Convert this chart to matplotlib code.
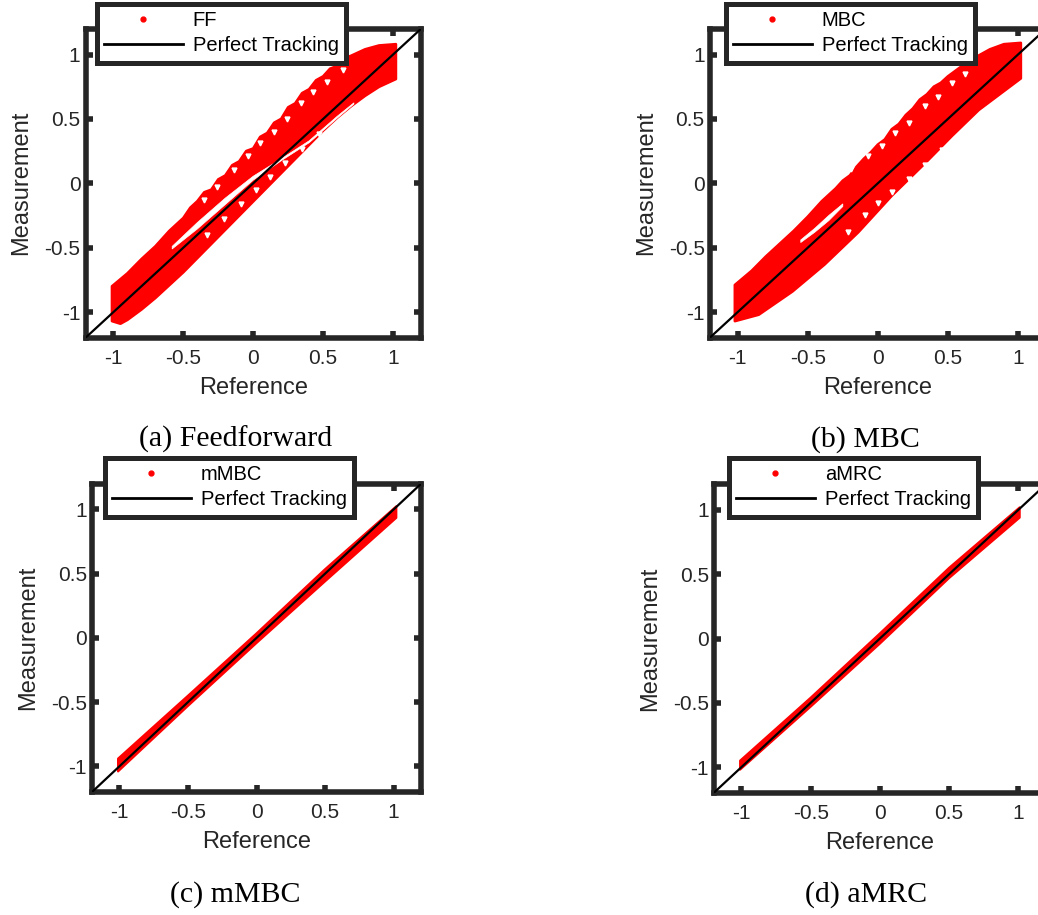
import matplotlib
matplotlib.use("Agg")
import matplotlib.pyplot as plt
from matplotlib.lines import Line2D

plt.rcParams['font.family'] = ['Liberation Sans', 'DejaVu Sans']

W, H = 1038, 915
DARK = '#262626'
LIM = 1.2
TICKS = [-1, -0.5, 0, 0.5, 1]
TICK_LABELS = ['-1', '-0.5', '0', '0.5', '1']

# --- Feedforward: envelope of the measured points ---
ff_upper_x = [-1.01, -0.90, -0.80, -0.70, -0.60, -0.50, -0.45, -0.40, -0.35, -0.30,
              -0.25, -0.20, -0.15, -0.10, -0.05, 0.00, 0.05, 0.10, 0.15, 0.20,
              0.25, 0.30, 0.35, 0.40, 0.45, 0.50, 0.55, 0.60, 0.65, 0.70,
              0.80, 0.90, 1.02]
ff_upper_y = [-0.80, -0.70, -0.59, -0.49, -0.37, -0.27, -0.19, -0.14, -0.07, -0.05,
              0.03, 0.06, 0.14, 0.17, 0.25, 0.27, 0.36, 0.39, 0.47, 0.50,
              0.59, 0.62, 0.70, 0.73, 0.80, 0.83, 0.89, 0.91, 0.97, 0.99,
              1.04, 1.07, 1.08]
ff_lower_x = [-1.01, -0.95, -0.90, -0.80, -0.70, -0.60, -0.50, -0.40, -0.30, -0.20,
              -0.10, 0.00, 0.10, 0.20, 0.30, 0.40, 0.50, 0.60, 0.70, 0.80, 0.90, 1.02]
ff_lower_y = [-1.07, -1.09, -1.06, -0.98, -0.89, -0.79, -0.69, -0.58, -0.47, -0.36,
              -0.25, -0.14, -0.03, 0.08, 0.19, 0.30, 0.41, 0.51, 0.60, 0.68, 0.75, 0.81]
# thin empty strip between the rising and falling branches
ff_gap_x = [-0.58, -0.40, -0.20, 0.00, 0.20, 0.40, 0.60, 0.72]
ff_gap_top = [-0.49, -0.305, -0.115, 0.055, 0.19, 0.33, 0.52, 0.625]
ff_gap_bot = [-0.51, -0.355, -0.165, 0.025, 0.175, 0.315, 0.505, 0.615]
# holes left between neighbouring loops
ff_hole_x = [-0.35, -0.26, -0.14, -0.04, 0.05, 0.15, 0.24, 0.34, 0.43, 0.53, 0.64,
             -0.33, -0.21, -0.09, 0.02, 0.12, 0.23, 0.35, 0.47]
ff_hole_y = [-0.13, -0.03, 0.10, 0.21, 0.31, 0.40, 0.50, 0.62, 0.71, 0.79, 0.88,
             -0.40, -0.28, -0.16, -0.05, 0.05, 0.16, 0.27, 0.38]

# --- MBC ---
mbc_upper_x = [-1.02, -0.90, -0.80, -0.70, -0.60, -0.50, -0.45, -0.40, -0.35, -0.30,
               -0.25, -0.20, -0.15, -0.10, -0.05, 0.00, 0.05, 0.10, 0.15, 0.20,
               0.25, 0.30, 0.35, 0.40, 0.45, 0.50, 0.55, 0.60, 0.70, 0.80, 0.90, 1.02]
mbc_upper_y = [-0.79, -0.68, -0.57, -0.47, -0.37, -0.26, -0.20, -0.14, -0.09, -0.04,
               0.02, 0.06, 0.13, 0.19, 0.24, 0.30, 0.34, 0.42, 0.46, 0.53,
               0.58, 0.65, 0.69, 0.75, 0.78, 0.83, 0.87, 0.91, 0.98, 1.04, 1.08, 1.09]
mbc_lower_x = [-1.02, -0.85, -0.61, -0.38, -0.14, 0.10, 0.34, 0.53, 0.72, 1.02]
mbc_lower_y = [-1.07, -1.02, -0.84, -0.63, -0.38, -0.095, 0.16, 0.37, 0.57, 0.815]
mbc_gap_x = [-0.55, -0.45, -0.35, -0.25]
mbc_gap_top = [-0.44, -0.35, -0.25, -0.16]
mbc_gap_bot = [-0.46, -0.38, -0.29, -0.18]
mbc_hole_x = [-0.19, -0.07, 0.03, 0.12, 0.22, 0.34, 0.43, 0.53, 0.62,
              -0.21, -0.09, 0.00, 0.10, 0.22, 0.34, 0.46]
mbc_hole_y = [0.11, 0.21, 0.29, 0.39, 0.47, 0.60, 0.67, 0.78, 0.85,
              -0.38, -0.25, -0.15, -0.07, 0.03, 0.14, 0.26]

# --- mMBC ---
mmbc_x = [-1.01, -0.50, 0.00, 0.50, 1.02]
mmbc_upper = [-0.94, -0.45, 0.035, 0.535, 1.025]
mmbc_lower = [-1.04, -0.53, -0.04, 0.44, 0.935]

# --- aMRC ---
amrc_x = [-1.01, -0.50, 0.00, 0.50, 1.01]
amrc_upper = [-0.95, -0.46, 0.04, 0.55, 1.02]
amrc_lower = [-1.02, -0.53, -0.04, 0.47, 0.94]

names = ['FF', 'MBC', 'mMBC', 'aMRC']
captions = ['(a) Feedforward', '(b) MBC', '(c) mMBC', '(d) aMRC']

# axes boxes in pixels: left, top, right, bottom
boxes = [(85.5, 28.8, 421, 337.8), (709.7, 28.8, 1046, 337.8),
         (92, 483.8, 421, 792), (713.8, 484.2, 1046, 792.8)]
# legend upper-left corners in pixels
legend_corners = [(97, 4), (726, 4), (105, 458), (729, 458)]
caption_pos = [(236, 447), (865, 447), (235, 902), (866, 902)]


def band(ax, xu, yu, xl, yl, color='red', lw=2.0):
    px = list(xu) + list(xl)[::-1]
    py = list(yu) + list(yl)[::-1]
    ax.fill(px, py, facecolor=color, edgecolor=color, lw=lw,
            joinstyle='round', zorder=2)


fig = plt.figure(figsize=(W / 100, H / 100), dpi=100)
axes = []
for (l, t, r, b) in boxes:
    ax = fig.add_axes([l / W, 1 - b / H, (r - l) / W, (b - t) / H])
    axes.append(ax)

band(axes[0], ff_upper_x, ff_upper_y, ff_lower_x, ff_lower_y)
band(axes[0], ff_gap_x, ff_gap_top, ff_gap_x, ff_gap_bot, color='white', lw=0.5)
axes[0].plot(ff_hole_x, ff_hole_y, ls='none', marker='v', ms=3.5, color='white', zorder=2.5)
band(axes[1], mbc_upper_x, mbc_upper_y, mbc_lower_x, mbc_lower_y)
band(axes[1], mbc_gap_x, mbc_gap_top, mbc_gap_x, mbc_gap_bot, color='white', lw=0.5)
axes[1].plot(mbc_hole_x, mbc_hole_y, ls='none', marker='v', ms=3.5, color='white', zorder=2.5)
band(axes[2], mmbc_x, mmbc_upper, mmbc_x, mmbc_lower, lw=1.5)
band(axes[3], amrc_x, amrc_upper, amrc_x, amrc_lower, lw=1.5)

for i, ax in enumerate(axes):
    ax.axline((0, 0), (1, 1), color='black', lw=1.6, zorder=3)
    ax.set_xlim(-LIM, LIM)
    ax.set_ylim(-LIM, LIM)
    ax.set_xticks(TICKS)
    ax.set_yticks(TICKS)
    ax.set_xticklabels(TICK_LABELS)
    ax.set_yticklabels(TICK_LABELS)
    ax.tick_params(direction='in', top=True, right=True, length=5, width=4,
                   color=DARK, labelcolor=DARK, labelsize=15)
    ax.tick_params(axis='x', pad=8)
    ax.tick_params(axis='y', pad=3.6)
    for s in ax.spines.values():
        s.set_linewidth(4)
        s.set_color(DARK)
    ax.set_xlabel('Reference', fontsize=17, color=DARK)
    ax.set_ylabel('Measurement', fontsize=17, color=DARK)
    l, t, r, b = boxes[i]
    ax.xaxis.set_label_coords(0.5, -39 / (b - t))
    ax.yaxis.set_label_coords(-53 / (r - l), 0.5)

    handles = [Line2D([], [], marker='o', ms=3.5, ls='none', color='red', label=names[i]),
               Line2D([], [], color='black', lw=2, label='Perfect Tracking')]
    lx, ly = legend_corners[i]
    leg = ax.legend(handles=handles, loc='upper left',
                    bbox_to_anchor=(lx / W, 1 - ly / H), bbox_transform=fig.transFigure,
                    borderaxespad=0, fontsize=14.5, handlelength=3.9, handletextpad=0.5,
                    borderpad=0.35, labelspacing=0.32, fancybox=False, framealpha=1,
                    edgecolor=DARK)
    leg.get_frame().set_linewidth(3.6)
    leg.set_zorder(10)

    cx, cy = caption_pos[i]
    fig.text(cx / W, 1 - cy / H, captions[i], ha='center', va='baseline',
             fontsize=21.5, family='Liberation Serif', color='black')

fig.savefig('out.png', dpi=100)
